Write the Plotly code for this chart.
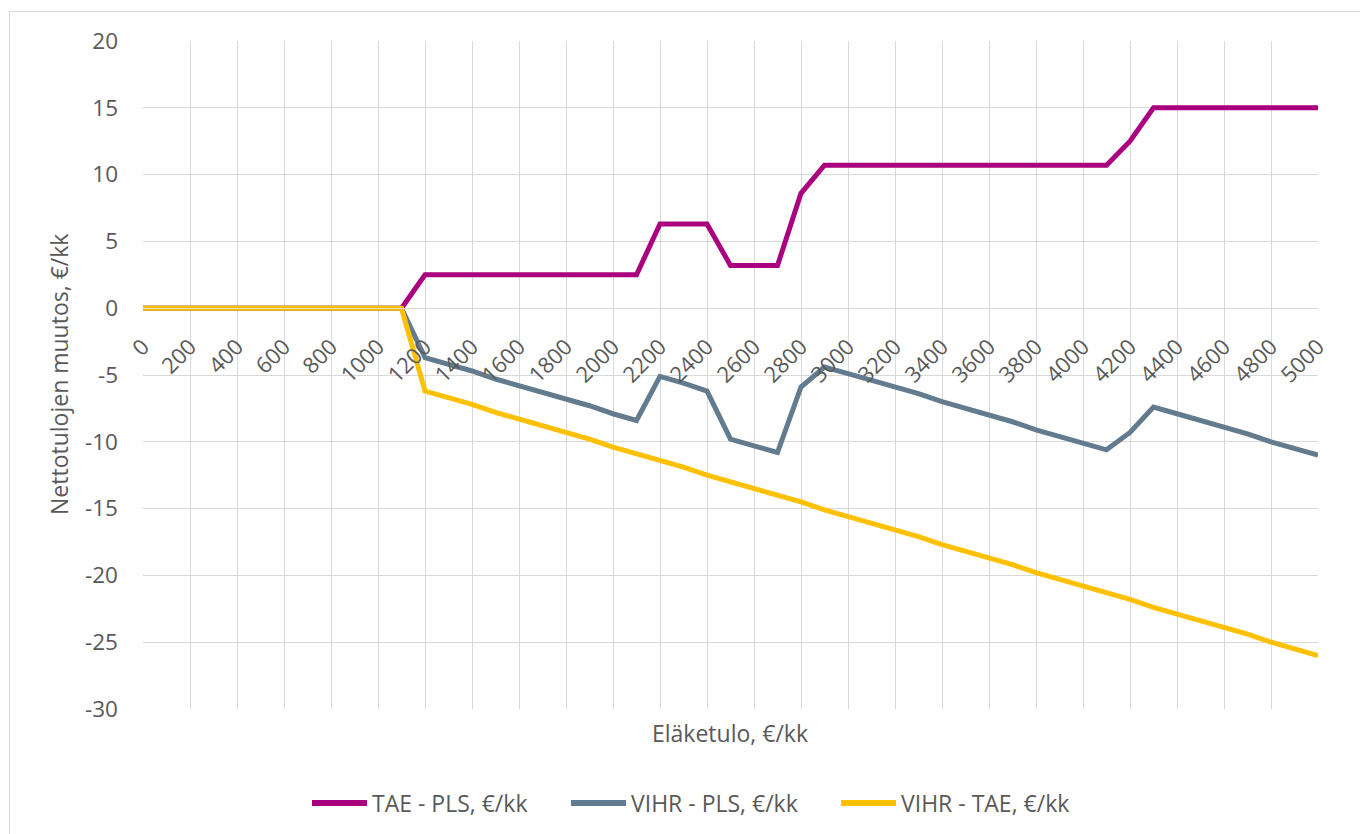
import plotly.graph_objects as go

# Pension income levels, €/month
income = [0, 100, 200, 300, 400, 500, 600, 700, 800, 900, 1000, 1100,
          1200, 1300, 1400, 1500, 1600, 1700, 1800, 1900, 2000, 2100,
          2200, 2300, 2400, 2500, 2600, 2700, 2800, 2900, 3000, 3100,
          3200, 3300, 3400, 3500, 3600, 3700, 3800, 3900, 4000, 4100,
          4200, 4300, 4400, 4500, 4600, 4700, 4800, 4900, 5000]

tae_pls = [0, 0, 0, 0, 0, 0, 0, 0, 0, 0, 0, 0,
           2.5, 2.5, 2.5, 2.5, 2.5, 2.5, 2.5, 2.5, 2.5, 2.5,
           6.3, 6.3, 6.3, 3.2, 3.2, 3.2, 8.6, 10.7, 10.7, 10.7,
           10.7, 10.7, 10.7, 10.7, 10.7, 10.7, 10.7, 10.7, 10.7, 10.7,
           12.5, 15.0, 15.0, 15.0, 15.0, 15.0, 15.0, 15.0, 15.0]

vihr_pls = [0, 0, 0, 0, 0, 0, 0, 0, 0, 0, 0, 0,
            -3.7, -4.2, -4.7, -5.3, -5.8, -6.3, -6.8, -7.3, -7.9, -8.4,
            -5.1, -5.6, -6.2, -9.8, -10.3, -10.8, -5.9, -4.4, -4.9, -5.4,
            -5.9, -6.4, -7.0, -7.5, -8.0, -8.5, -9.1, -9.6, -10.1, -10.6,
            -9.3, -7.4, -7.9, -8.4, -8.9, -9.4, -10.0, -10.5, -11.0]

vihr_tae = [0, 0, 0, 0, 0, 0, 0, 0, 0, 0, 0, 0,
            -6.2, -6.7, -7.2, -7.8, -8.3, -8.8, -9.3, -9.8, -10.4, -10.9,
            -11.4, -11.9, -12.5, -13.0, -13.5, -14.0, -14.5, -15.1, -15.6, -16.1,
            -16.6, -17.1, -17.7, -18.2, -18.7, -19.2, -19.8, -20.3, -20.8, -21.3,
            -21.8, -22.4, -22.9, -23.4, -23.9, -24.4, -25.0, -25.5, -26.0]

series_names = ["TAE - PLS, €/kk", "VIHR - PLS, €/kk", "VIHR - TAE, €/kk"]
series_colors = ["#AA007F", "#637B8F", "#FFC000"]

x_ticks = [0, 200, 400, 600, 800, 1000, 1200, 1400, 1600, 1800, 2000, 2200, 2400,
           2600, 2800, 3000, 3200, 3400, 3600, 3800, 4000, 4200, 4400, 4600, 4800, 5000]
x_ticktext = [str(v) for v in x_ticks]
y_ticks = [20, 15, 10, 5, 0, -5, -10, -15, -20, -25, -30]
y_ticktext = [str(v) for v in y_ticks]

FONT = "Open Sans, Liberation Sans, sans-serif"
TEXT = "#595959"
GRID = "#D9D9D9"

fig = go.Figure()
for name, ys, col in zip(series_names, [tae_pls, vihr_pls, vihr_tae], series_colors):
    fig.add_trace(go.Scatter(x=income, y=ys, mode="lines", name=name,
                             line=dict(color=col, width=5), showlegend=False))

W, H = 1360, 834
ml, mr, mt, mb = 143, 42, 41, 125
pw, ph = W - ml - mr, H - mt - mb


def px_x(p):
    return (p - ml) / pw


def px_y(p):
    return (H - mb - p) / ph


y_min, y_max = -30, 20
zero_frac = (0 - y_min) / (y_max - y_min)

annotations = [
    dict(text="Eläketulo, €/kk", xref="paper", yref="paper",
         x=px_x(730), y=px_y(733), xanchor="center", yanchor="middle",
         showarrow=False, font=dict(size=23, color=TEXT)),
    dict(text="Nettotulojen muutos, €/kk", xref="paper", yref="paper",
         x=px_x(59), y=px_y(375), xanchor="center", yanchor="middle",
         textangle=-90, showarrow=False, font=dict(size=23, color=TEXT)),
]
shapes = [
    dict(type="rect", xref="paper", yref="paper", layer="below",
         x0=px_x(9.5), x1=px_x(1380), y0=px_y(850), y1=px_y(11.5),
         line=dict(color=GRID, width=1), fillcolor="rgba(0,0,0,0)"),
]

# Legend row under the x-axis title: swatch + label per series
legend_y = 803
legend_left = [312, 571, 841]
swatch_len = 55
for name, col, x0 in zip(series_names, series_colors, legend_left):
    shapes.append(dict(type="line", xref="paper", yref="paper",
                       x0=px_x(x0), x1=px_x(x0 + swatch_len),
                       y0=px_y(legend_y), y1=px_y(legend_y),
                       line=dict(color=col, width=6)))
    annotations.append(dict(text=name, xref="paper", yref="paper",
                            x=px_x(x0 + swatch_len + 3), y=px_y(legend_y),
                            xanchor="left", yanchor="middle", showarrow=False,
                            font=dict(size=23, color=TEXT)))

fig.update_layout(
    width=W, height=H,
    margin=dict(l=ml, r=mr, t=mt, b=mb),
    paper_bgcolor="white", plot_bgcolor="white",
    font=dict(family=FONT, color=TEXT, size=22),
    showlegend=False,
    xaxis=dict(range=[0, 5000], tickvals=x_ticks, ticktext=x_ticktext,
               tickangle=-45, showgrid=True, gridcolor=GRID, gridwidth=1,
               zeroline=False, showline=True, linecolor=GRID, linewidth=1,
               anchor="free", position=zero_frac, ticks="",
               ticklabelstandoff=16,
               tickfont=dict(size=22, color=TEXT)),
    yaxis=dict(range=[y_min, y_max], tickvals=y_ticks, ticktext=y_ticktext,
               showgrid=True, gridcolor=GRID, gridwidth=1, zeroline=False,
               showline=False, ticks="", ticklabelstandoff=24,
               tickfont=dict(size=22.5, color=TEXT)),
    annotations=annotations,
    shapes=shapes,
)

fig.write_html("out.html")
